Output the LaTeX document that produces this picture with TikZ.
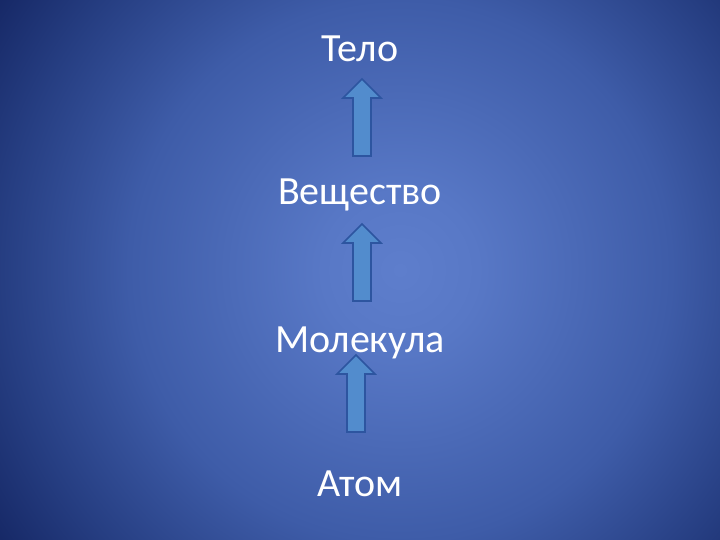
\documentclass[tikz,border=0pt]{standalone}
\usepackage{fontspec}
\setmainfont{Carlito}
\definecolor{bgA}{RGB}{94,126,204}
\definecolor{bgB}{RGB}{88,120,198}
\definecolor{bgC}{RGB}{62,92,168}
\definecolor{bgD}{RGB}{38,62,130}
\definecolor{bgE}{RGB}{22,40,102}
\definecolor{arrfill}{RGB}{82,140,205}
\definecolor{arrline}{RGB}{45,85,160}
\pgfdeclareradialshading{slidebg}{\pgfpoint{0bp}{0bp}}{%
  color(0bp)=(bgA); color(4bp)=(bgB); color(14bp)=(bgC); color(20.5bp)=(bgD); color(25bp)=(bgE); color(50bp)=(bgE)}
\begin{document}
\begin{tikzpicture}[x=1pt,y=-1pt,
  lbl/.style={text=white,font=\fontsize{40}{40}\selectfont,inner sep=0pt,anchor=base},
  uparrow/.style={fill=arrfill,draw=arrline,line width=1.6pt,line join=miter}]
\useasboundingbox (0,0) rectangle (720,540);
\begin{scope}
\clip (0,0) rectangle (720,540);
\path[shading=slidebg] (-85,-215) rectangle (885,755);
\end{scope}
\node[lbl] (telo) at (360,62) {Тело};
\node[lbl] (vesh) at (360,205) {Вещество};
\node[lbl] (mol) at (360,352) {Молекула};
\node[lbl] (atom) at (360,496) {Атом};
% arrows
\draw[uparrow] (353,156) -- (353,98) -- (343,98) -- (362,79) -- (381,98) -- (371,98) -- (371,156) -- cycle;
\draw[uparrow] (353,301) -- (353,243) -- (343,243) -- (362,224) -- (381,243) -- (371,243) -- (371,301) -- cycle;
\draw[uparrow] (347,432) -- (347,374) -- (337,374) -- (356,355) -- (375,374) -- (365,374) -- (365,432) -- cycle;
\end{tikzpicture}
\end{document}
